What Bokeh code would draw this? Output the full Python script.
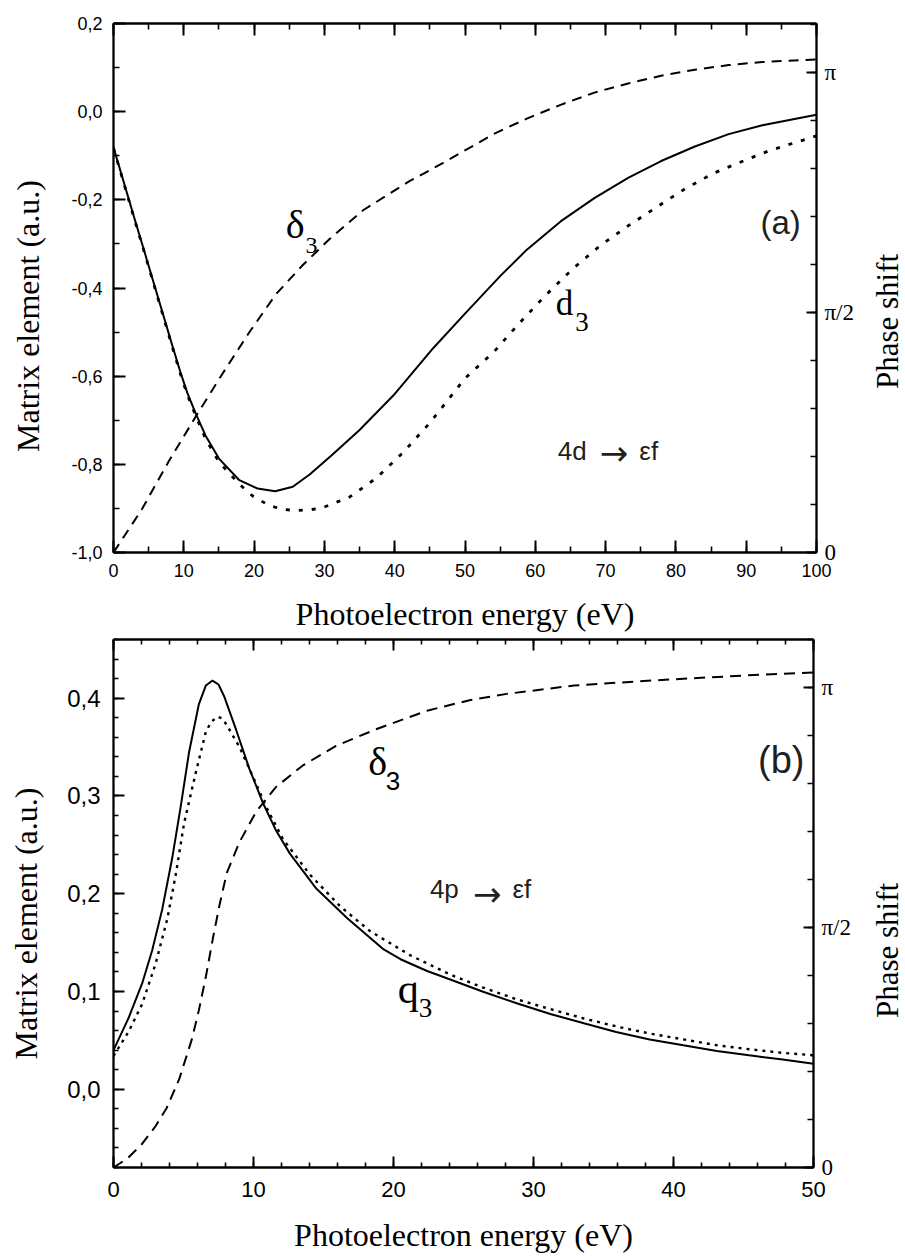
import math
from bokeh.plotting import figure
from bokeh.models import Range1d, LinearAxis, FixedTicker, CustomJSTickFormatter, Label
from bokeh.layouts import column, row
from bokeh.embed import file_html
from bokeh.resources import INLINE

SERIF = "Liberation Serif"
SANS = "Liberation Sans"
ARROW_FONT = "DejaVu Sans"
NBSP = "\u00a0"

# ---------------- Panel (a): 4d -> εf ----------------
a_energy_solid = [0, 2.9, 4.5, 6.4, 8.3, 9.5, 10.5, 11.7, 13.1, 15.0, 17.9, 20.5, 23.0, 25.5,
                  27.9, 31.0, 35.0, 39.8, 45.5, 50.0, 55.0, 58.8, 63.6, 68.4, 73.2, 77.9,
                  82.7, 87.5, 92.3, 100]
a_matrix_solid = [-0.081, -0.238, -0.323, -0.425, -0.527, -0.590, -0.638, -0.685, -0.735, -0.787,
                  -0.836, -0.855, -0.861, -0.851, -0.823, -0.780, -0.722, -0.644, -0.536, -0.458,
                  -0.373, -0.313, -0.249, -0.196, -0.150, -0.112, -0.079, -0.051, -0.031, -0.007]

a_energy_dotted = [0, 2.9, 4.5, 6.4, 8.3, 9.5, 10.5, 11.7, 13.1, 15.0, 17.9, 19.8, 22.1, 24.0,
                   26.0, 28.0, 29.8, 33.6, 37.4, 41.2, 45.0, 50.0, 54.1, 57.6, 61.5, 65.5,
                   69.3, 73.4, 77.5, 81.3, 85.3, 89.4, 93.2, 100]
a_matrix_dotted = [-0.083, -0.240, -0.325, -0.428, -0.530, -0.594, -0.642, -0.690, -0.742, -0.795,
                   -0.845, -0.872, -0.893, -0.902, -0.905, -0.903, -0.898, -0.874, -0.831, -0.773,
                   -0.706, -0.605, -0.545, -0.482, -0.416, -0.354, -0.303, -0.257, -0.214, -0.175,
                   -0.140, -0.113, -0.089, -0.055]

a_energy_phase = [0, 4.0, 7.9, 11.7, 15.5, 19.3, 23.1, 26.9, 30.7, 35.5, 42.1, 46.9, 50.7, 54.1,
                  58.8, 63.6, 68.4, 73.2, 77.9, 82.7, 87.5, 92.3, 100]
a_phase = [0.0, 0.28, 0.60, 0.89, 1.17, 1.44, 1.69, 1.88, 2.05, 2.24, 2.43, 2.55, 2.65, 2.74,
           2.84, 2.93, 3.01, 3.07, 3.12, 3.16, 3.19, 3.21, 3.227]

a_x_ticks = [0, 10, 20, 30, 40, 50, 60, 70, 80, 90, 100]
a_x_minor = [0, 5, 10, 15, 20, 25, 30, 35, 40, 45, 50, 55, 60, 65, 70, 75, 80, 85, 90, 95, 100]
a_y_ticks = [-1.0, -0.8, -0.6, -0.4, -0.2, 0.0, 0.2]
a_y_minor = [-1.0, -0.9, -0.8, -0.7, -0.6, -0.5, -0.4, -0.3, -0.2, -0.1, 0.0, 0.1, 0.2]

# ---------------- Panel (b): 4p -> εf ----------------
b_energy_solid = [0, 1.08, 2.04, 2.76, 3.48, 4.2, 4.8, 5.4, 6.1, 6.6, 7.07, 7.5, 7.9, 8.75,
                  9.7, 10.7, 11.6, 12.6, 14.5, 16.7, 19.3, 20.5, 22.4, 24.1, 26.4, 28.8, 31.2,
                  33.6, 35.9, 38.3, 40.7, 43.1, 45.4, 47.8, 50]
b_matrix_solid = [0.040, 0.073, 0.108, 0.142, 0.184, 0.237, 0.289, 0.345, 0.394, 0.413, 0.418,
                  0.414, 0.402, 0.368, 0.328, 0.292, 0.265, 0.241, 0.205, 0.175, 0.143, 0.133,
                  0.121, 0.112, 0.0997, 0.088, 0.077, 0.0675, 0.0585, 0.051, 0.045, 0.0392,
                  0.0348, 0.0304, 0.026]

b_energy_dotted = [0, 1.08, 2.04, 3.0, 3.84, 4.44, 5.04, 5.88, 6.6, 7.0, 7.43, 7.8, 8.15, 9.0,
                   9.95, 10.9, 12.1, 14.0, 16.2, 18.3, 21.2, 24.1, 26.4, 28.8, 31.2, 33.6,
                   36.0, 38.3, 40.7, 43.1, 45.4, 47.8, 50]
b_matrix_dotted = [0.034, 0.059, 0.087, 0.128, 0.174, 0.219, 0.272, 0.324, 0.366, 0.376, 0.381,
                   0.379, 0.371, 0.350, 0.320, 0.289, 0.256, 0.220, 0.187, 0.162, 0.137, 0.117,
                   0.104, 0.092, 0.082, 0.0724, 0.064, 0.057, 0.051, 0.045, 0.041, 0.0372, 0.0348]

b_energy_phase = [0, 1.0, 2.0, 3.0, 3.8, 4.7, 5.6, 6.1, 6.6, 7.1, 7.6, 8.1, 9.0, 10.2, 11.6,
                  13.5, 15.9, 18.8, 22.4, 25.5, 28.1, 32.9, 38.6, 45.0, 50.0]
b_phase = [0.0, 0.06, 0.15, 0.27, 0.39, 0.58, 0.84, 1.03, 1.25, 1.50, 1.73, 1.93, 2.13, 2.33,
           2.49, 2.63, 2.76, 2.87, 2.99, 3.06, 3.10, 3.155, 3.188, 3.22, 3.24]

b_x_ticks = [0, 10, 20, 30, 40, 50]
b_x_minor = [0, 2, 4, 6, 8, 10, 12, 14, 16, 18, 20, 22, 24, 26, 28, 30, 32, 34, 36, 38, 40,
             42, 44, 46, 48, 50]
b_y_ticks = [0.0, 0.1, 0.2, 0.3, 0.4]
b_y_minor = [-0.08, -0.06, -0.04, -0.02, 0.0, 0.02, 0.04, 0.06, 0.08, 0.1, 0.12, 0.14, 0.16,
             0.18, 0.2, 0.22, 0.24, 0.26, 0.28, 0.3, 0.32, 0.34, 0.36, 0.38, 0.4, 0.42, 0.44, 0.46]

phase_ticks = [0.0, math.pi / 2, math.pi]
phase_minor = [k * math.pi / 10 for k in range(0, 12)]

COMMA_FMT = "return tick.toFixed(1).replace('.', ',');"
PHASE_FMT = """
if (Math.abs(tick - Math.PI) < 1e-6) { return "\u03c0"; }
if (Math.abs(tick - Math.PI / 2) < 1e-6) { return "\u03c0/2"; }
return "0";
"""

SIDE_W = 45  # strip at the right edge holding the rotated "Phase shift" title


def style_axis(ax, font, size, tick_in, minor_in, standoff):
    ax.axis_line_width = 2.3
    ax.axis_line_color = "black"
    ax.major_tick_in = tick_in
    ax.major_tick_out = 0
    ax.minor_tick_in = minor_in
    ax.minor_tick_out = 0
    ax.major_tick_line_width = 2
    ax.minor_tick_line_width = 1.6
    ax.major_tick_line_color = "black"
    ax.minor_tick_line_color = "black"
    ax.major_label_text_font = font
    ax.major_label_text_font_size = size
    ax.major_label_text_color = "black"
    ax.major_label_standoff = standoff


def title_style(ax, standoff):
    ax.axis_label_text_font = SERIF
    ax.axis_label_text_font_size = "32px"
    ax.axis_label_text_font_style = "normal"
    ax.axis_label_text_color = "black"
    ax.axis_label_standoff = standoff


def make_panel(height, x_end, y_start, y_end, phase_end, borders,
               x_ticks, x_minor, y_ticks, y_minor, sizes, left_pad):
    top, bottom, left, right = borders
    p = figure(width=905 - SIDE_W, height=height,
               x_range=Range1d(0, x_end), y_range=Range1d(y_start, y_end),
               x_axis_type=None, y_axis_type=None,
               output_backend="svg", toolbar_location=None,
               min_border_top=top, min_border_bottom=bottom,
               min_border_left=left, min_border_right=right,
               background_fill_color="white", border_fill_color="white")
    p.outline_line_color = None
    p.extra_y_ranges = {"phase": Range1d(0, phase_end)}

    (x_size, y_size, tick_in, minor_in, x_standoff, y_standoff,
     x_label_standoff, y_label_standoff) = sizes

    below = LinearAxis(ticker=FixedTicker(ticks=x_ticks, minor_ticks=x_minor),
                       axis_label="Photoelectron energy (eV)")
    style_axis(below, SANS, x_size, tick_in, minor_in, x_standoff)
    title_style(below, x_label_standoff)
    p.add_layout(below, "below")

    left_ax = LinearAxis(ticker=FixedTicker(ticks=y_ticks, minor_ticks=y_minor),
                         formatter=CustomJSTickFormatter(code=COMMA_FMT),
                         axis_label="Matrix element (a.u.)" + NBSP * left_pad)
    style_axis(left_ax, SANS, y_size, tick_in, minor_in, y_standoff)
    title_style(left_ax, y_label_standoff)
    p.add_layout(left_ax, "left")

    above = LinearAxis(ticker=FixedTicker(ticks=x_ticks, minor_ticks=x_minor))
    style_axis(above, SANS, "1px", tick_in, minor_in, 0)
    above.major_label_text_color = None
    p.add_layout(above, "above")

    right_ax = LinearAxis(y_range_name="phase",
                          ticker=FixedTicker(ticks=phase_ticks, minor_ticks=phase_minor),
                          formatter=CustomJSTickFormatter(code=PHASE_FMT))
    style_axis(right_ax, SERIF, "23px", 10, 6, 8)
    p.add_layout(right_ax, "right")
    return p


def side_title(height, y_start, y_end, y_center, text):
    # the row layout aligns this strip's frame with the panel's frame,
    # so it shares the panel's matrix-element scale vertically
    s = figure(width=SIDE_W, height=height,
               x_range=Range1d(0, SIDE_W), y_range=Range1d(y_start, y_end),
               x_axis_type=None, y_axis_type=None,
               output_backend="svg", toolbar_location=None, min_border=0,
               background_fill_color="white", border_fill_color="white")
    s.outline_line_color = None
    s.add_layout(Label(x=27, y=y_center, text=text, angle=math.pi / 2,
                       text_font=SERIF, text_font_size="31px", text_align="center",
                       text_baseline="middle", text_color="black"))
    return s


def add_text(p, x, y, text, font, size, align="left", color="black"):
    p.add_layout(Label(x=x, y=y, text=text, text_font=font, text_font_size=size,
                       text_align=align, text_baseline="middle", text_color=color))


# ---------- figure (a) ----------
p1 = make_panel(638, 100, -1.0, 0.2, 3.4622, (23, 86, 113, 905 - SIDE_W - 816),
                a_x_ticks, a_x_minor, a_y_ticks, a_y_minor,
                ("18px", "18px", 12, 6, 11, 11, 16, 22), 7)
p1.line(a_energy_solid, a_matrix_solid, line_color="black", line_width=2)
p1.line(a_energy_dotted, a_matrix_dotted, line_color="black", line_width=2.8,
        line_dash="4 9")
p1.line(a_energy_phase, a_phase, y_range_name="phase", line_color="black",
        line_width=2, line_dash="10 7")

add_text(p1, 24.5, -0.255, "\u03b4", SERIF, "40px")
add_text(p1, 27.3, -0.303, "3", SERIF, "24px")
add_text(p1, 62.9, -0.436, "d", SERIF, "35px")
add_text(p1, 65.7, -0.477, "3", SERIF, "27px")
add_text(p1, 94.9, -0.252, "(a)", SANS, "33px", "center", color="#231f20")
add_text(p1, 63.2, -0.769, "4d", SANS, "26px", color="#231f20")
add_text(p1, 71.2, -0.775, "\u2192", ARROW_FONT, "34px", "center", color="#231f20")
add_text(p1, 74.8, -0.769, "\u03b5f", SANS, "26px", color="#231f20")

s1 = side_title(638, -1.0, 0.2, -0.476, "Phase shift")

# ---------- figure (b) ----------
p2 = make_panel(619, 50, -0.08, 0.46, 3.4558, (1, 90, 113, 905 - SIDE_W - 813),
                b_x_ticks, b_x_minor, b_y_ticks, b_y_minor,
                ("22px", "24px", 11, 5, 14, 13, 17, 20), 5)
p2.line(b_energy_solid, b_matrix_solid, line_color="black", line_width=2)
p2.line(b_energy_dotted, b_matrix_dotted, line_color="black", line_width=2.4,
        line_dash="3 5")
p2.line(b_energy_phase, b_phase, y_range_name="phase", line_color="black",
        line_width=2, line_dash="11 7")

add_text(p2, 18.2, 0.335, "\u03b4", SERIF, "40px")
add_text(p2, 19.45, 0.315, "3", SANS, "26px")
add_text(p2, 20.3, 0.103, "q", SERIF, "42px")
add_text(p2, 21.8, 0.083, "3", SERIF, "27px")
add_text(p2, 47.7, 0.337, "(b)", SANS, "38px", "center", color="#231f20")
add_text(p2, 22.6, 0.205, "4p", SANS, "26px", color="#231f20")
add_text(p2, 26.7, 0.200, "\u2192", ARROW_FONT, "34px", "center", color="#231f20")
add_text(p2, 28.5, 0.205, "\u03b5f", SANS, "26px", color="#231f20")

s2 = side_title(619, -0.08, 0.46, 0.142, "Phase shift")

layout = column(row(p1, s1, spacing=0), row(p2, s2, spacing=0), spacing=0)
with open("out.html", "w", encoding="utf-8") as f:
    f.write(file_html(layout, INLINE))
